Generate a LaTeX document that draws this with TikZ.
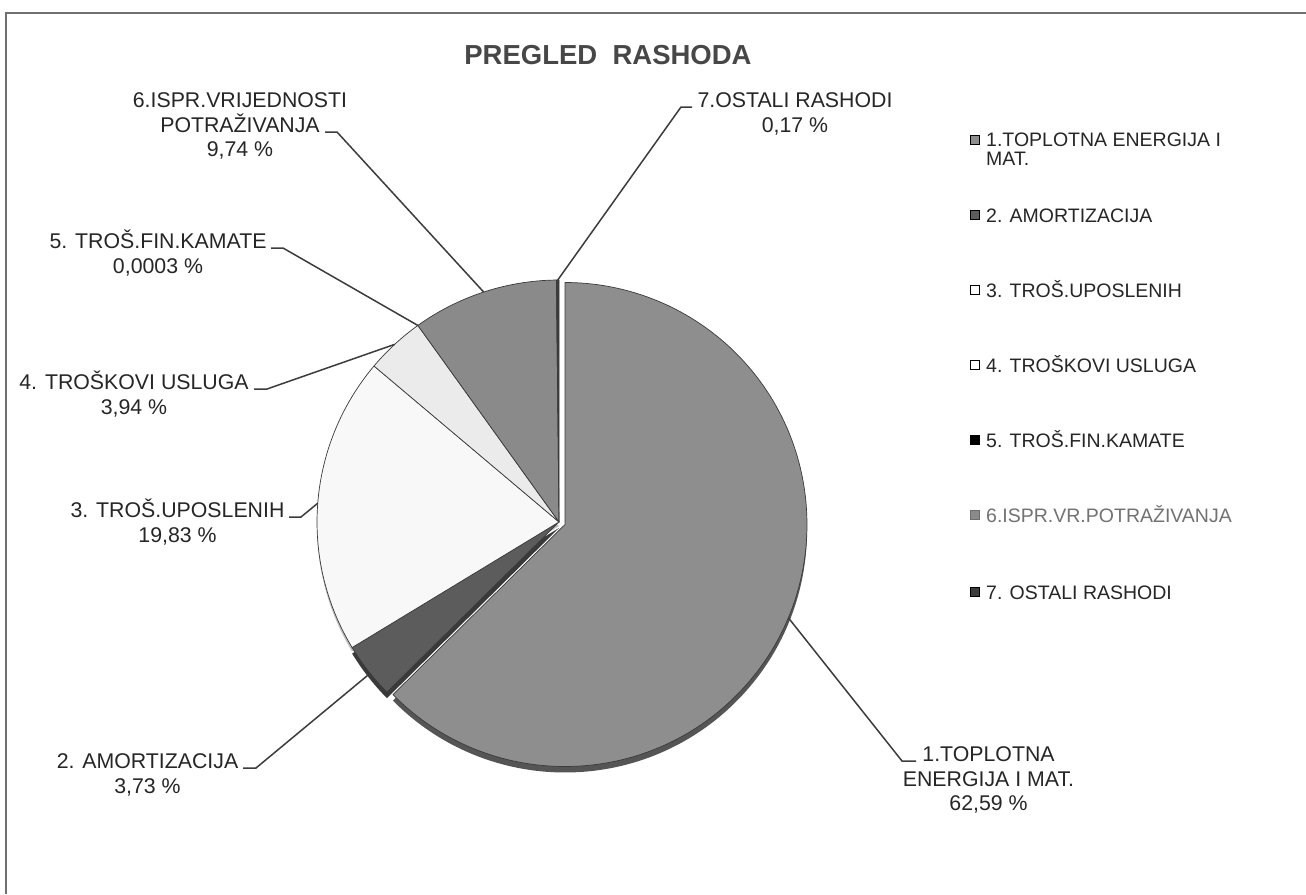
\documentclass[tikz,border=0pt]{standalone}
\usepackage{fontspec}
\setmainfont{Liberation Sans}
\usetikzlibrary{calc}
\definecolor{txt}{HTML}{262626}
\definecolor{ldr}{HTML}{3C3C3C}
\definecolor{edge}{HTML}{3A3A3A}
\definecolor{sA}{HTML}{8E8E8E}
\definecolor{sAd}{HTML}{555555}
\definecolor{sB}{HTML}{5C5C5C}
\definecolor{sBd}{HTML}{3A3A3A}
\definecolor{sC}{HTML}{F8F8F8}
\definecolor{sCd}{HTML}{BDBDBD}
\definecolor{sD}{HTML}{EBEBEB}
\definecolor{sF}{HTML}{8A8A8A}
\definecolor{sG}{HTML}{3C3C3C}
\definecolor{frm}{HTML}{707070}
\begin{document}
\begin{tikzpicture}[x=1pt,y=1pt,
  lbl/.style={font=\fontsize{21.3}{24.5}\selectfont, text=txt, align=center, inner sep=0pt},
  leg/.style={font=\fontsize{19.5}{18.5}\selectfont, text=txt, anchor=west, inner sep=0pt, text height=14pt, text depth=0pt},
  legml/.style={font=\fontsize{19.5}{18.5}\selectfont, text=txt, anchor=north west, inner sep=0pt, align=left},
  lgm/.style={draw=black, line width=0.9pt, minimum size=9pt, inner sep=0pt},
  leader/.style={draw=ldr, line width=1.5pt},
  slice/.style={draw=edge, line width=0.7pt, line join=round},
  ttl/.style={font=\fontsize{27.5}{30}\selectfont\bfseries, text=txt!85!white, inner sep=0pt}
]
\useasboundingbox (0,0) rectangle (1306,-894);
\fill[white] (0,0) rectangle (1306,-894);
\draw[frm, line width=2pt] (6,-894) -- (6,-13) -- (1306,-13);

\node[ttl] (title) at (608,-55) {PREGLED\ \ RASHODA};

% pie
\def\R{242}
\coordinate (C) at (559,-522);
\coordinate (C1) at (565,-524.5);

% depth (3D rim)
\fill[sCd] ([yshift=-4pt]C) -- ++(139.86:\R) arc[start angle=139.86, end angle=211.25, radius=\R] -- cycle;
\fill[sBd] ([yshift=-6pt]C) -- ++(211.25:\R) arc[start angle=211.25, end angle=224.68, radius=\R] -- cycle;
\fill[sAd] ([yshift=-6pt]C1) -- ++(224.68:\R) arc[start angle=224.68, end angle=450, radius=\R] -- cycle;

% top faces
\filldraw[slice, fill=sA] (C1) -- ++(224.68:\R) arc[start angle=224.68, end angle=450, radius=\R] -- cycle;
\filldraw[slice, fill=sB] (C) -- ++(211.25:\R) arc[start angle=211.25, end angle=224.68, radius=\R] -- cycle;
\filldraw[slice, fill=sC] (C) -- ++(139.86:\R) arc[start angle=139.86, end angle=211.25, radius=\R] -- cycle;
\filldraw[slice, fill=sD] (C) -- ++(125.68:\R) arc[start angle=125.68, end angle=139.86, radius=\R] -- cycle;
\filldraw[slice, fill=sF] (C) -- ++(90.61:\R) arc[start angle=90.61, end angle=125.68, radius=\R] -- cycle;
\filldraw[slice, fill=sG] (C) -- ++(90:\R) arc[start angle=90, end angle=90.61, radius=\R] -- cycle;

% pie points for leaders
\coordinate (p1) at ($(C1)+(-22.66:\R)$);
\coordinate (p2) at ($(C)+(217.97:\R)+(0,-4)$);
\coordinate (p3) at ($(C)+(175.55:\R)$);
\coordinate (p4) at ($(C)+(132.77:\R)$);
\coordinate (p5) at ($(C)+(125.68:\R)$);
\coordinate (p6) at ($(C)+(108.14:\R)$);
\coordinate (p7) at ($(C)+(90.3:\R)$);

% labels
\node[lbl] (l6) at (240,-126.4) {6.ISPR.VRIJEDNOSTI\\POTRAŽIVANJA\\9,74 \%};
\node[lbl] (l7) at (795,-114.1) {7.OSTALI RASHODI\\0,17 \%};
\node[lbl] (l5) at (158,-253) {5. TROŠ.FIN.KAMATE\\0,0003 \%};
\node[lbl] (l4) at (134,-394) {4. TROŠKOVI USLUGA\\3,94 \%};
\node[lbl] (l3) at (177.5,-522) {3. TROŠ.UPOSLENIH\\19,83 \%};
\node[lbl] (l2) at (147.5,-775.1) {2. AMORTIZACIJA\\3,73 \%};
\node[lbl] (l1) at (988.5,-780.4) {1.TOPLOTNA\\ENERGIJA I MAT.\\62,59 \%};

% leader ticks
\coordinate (t6a) at (325,-132); \coordinate (t6b) at (337,-132);
\coordinate (t7a) at (692,-107); \coordinate (t7b) at (681,-107);
\coordinate (t5a) at (271,-248); \coordinate (t5b) at (283,-248);
\coordinate (t4a) at (254,-389); \coordinate (t4b) at (267,-389);
\coordinate (t3a) at (289,-517); \coordinate (t3b) at (301,-517);
\coordinate (t2a) at (243,-768); \coordinate (t2b) at (256,-768);
\coordinate (t1a) at (916,-761); \coordinate (t1b) at (902,-761);

\draw[leader] (t6a) -- (t6b) -- (p6);
\draw[leader] (t7a) -- (t7b) -- (p7);
\draw[leader] (t5a) -- (t5b) -- (p5);
\draw[leader] (t4a) -- (t4b) -- (p4);
\draw[leader] (t3a) -- (t3b) -- (p3);
\draw[leader] (t2a) -- (t2b) -- (p2);
\draw[leader] (t1a) -- (t1b) -- (p1);

% legend
\node[lgm, fill=sA] (m1) at (975,-140) {};
\node[legml] (g1) at (986,-133) {1.TOPLOTNA ENERGIJA I\\MAT.};
\node[lgm, fill=sB] (m2) at (975,-215) {};
\node[leg] (g2) at (986,-215) {2. AMORTIZACIJA};
\node[lgm, fill=white] (m3) at (975,-290) {};
\node[leg] (g3) at (986,-290) {3. TROŠ.UPOSLENIH};
\node[lgm, fill=white] (m4) at (975,-365) {};
\node[leg] (g4) at (986,-365) {4. TROŠKOVI USLUGA};
\node[lgm, fill=black] (m5) at (975,-440) {};
\node[leg] (g5) at (986,-440) {5. TROŠ.FIN.KAMATE};
\node[lgm, draw=sF!80!black, fill=sF] (m6) at (975,-515) {};
\node[leg, text=txt!65!white] (g6) at (986,-515) {6.ISPR.VR.POTRAŽIVANJA};
\node[lgm, fill=sG] (m7) at (975,-592) {};
\node[leg] (g7) at (986,-592) {7. OSTALI RASHODI};
\end{tikzpicture}
\end{document}
